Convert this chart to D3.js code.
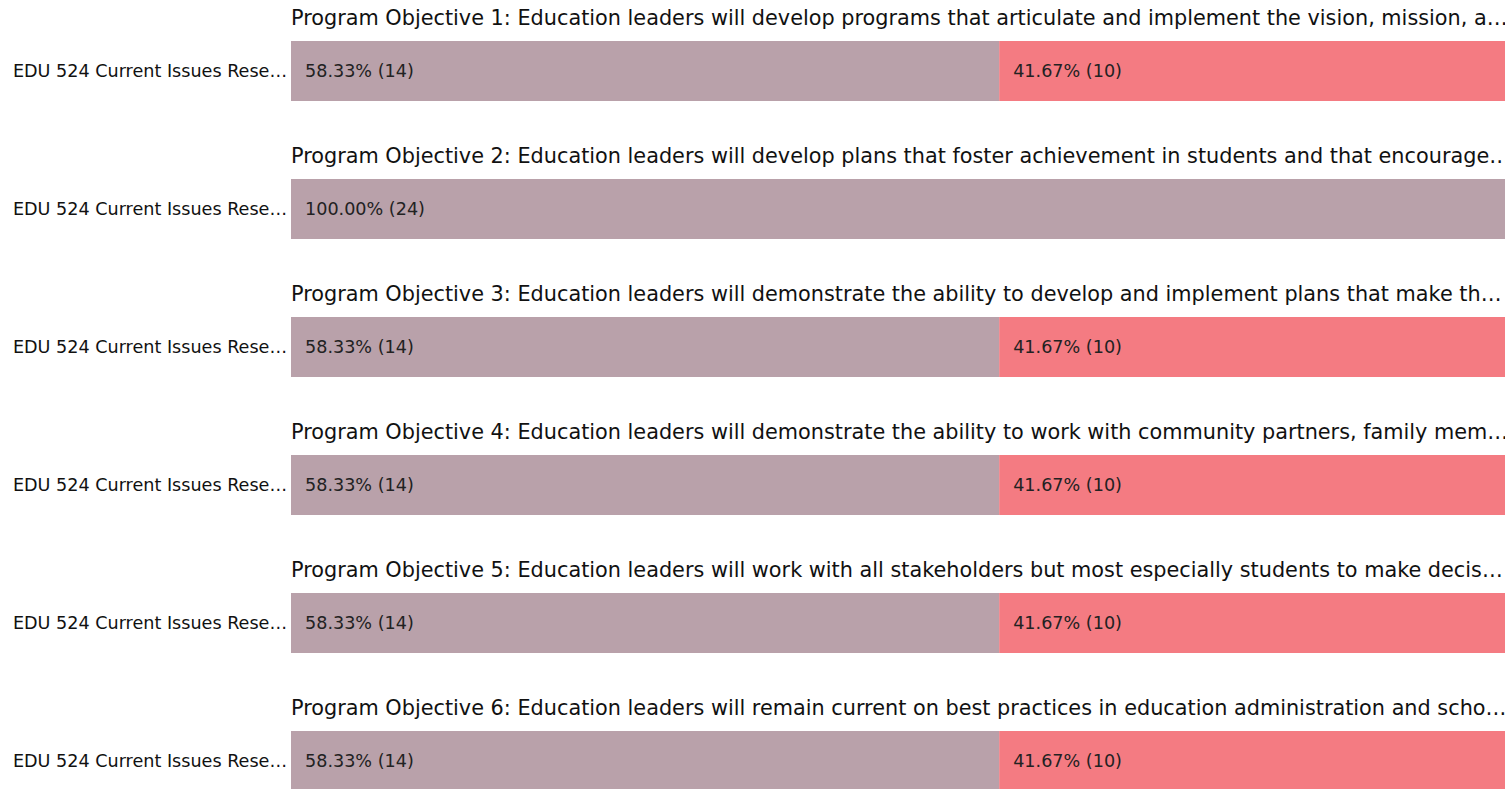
<!DOCTYPE html>
<html>
<head>
<meta charset="utf-8">
<script src="https://cdn.jsdelivr.net/npm/d3@7"></script>
<style>
  html, body { margin: 0; padding: 0; background: #fff; }
  svg { display: block; font-family: "DejaVu Sans", sans-serif; }
</style>
</head>
<body>
<div id="chart"></div>
<script>
// Titres des objectifs (tronqués comme dans l'original)
const objectives = [
  "Program Objective 1: Education leaders will develop programs that articulate and implement the vision, mission, a…",
  "Program Objective 2: Education leaders will develop plans that foster achievement in students and that encourage…",
  "Program Objective 3: Education leaders will demonstrate the ability to develop and implement plans that make th…",
  "Program Objective 4: Education leaders will demonstrate the ability to work with community partners, family mem…",
  "Program Objective 5: Education leaders will work with all stakeholders but most especially students to make decis…",
  "Program Objective 6: Education leaders will remain current on best practices in education administration and scho…"
];
const courseLabel = "EDU 524 Current Issues Rese…";
const firstCounts = [14, 24, 14, 14, 14, 14];
const secondCounts = [10, 0, 10, 10, 10, 10];
const seriesColors = ["#b9a1aa", "#f47b82"];

const width = 1505, height = 789;
const margin = { top: 0, right: 0, bottom: 0, left: 291 };
const panelStep = 138, titleSpace = 41, barH = 60;

const svg = d3.select("#chart").append("svg")
  .attr("width", width)
  .attr("height", height);

const x = d3.scaleLinear()
  .domain([0, 1])
  .range([margin.left, width - margin.right]);

const y = d3.scaleBand()
  .domain(d3.range(objectives.length))
  .range([0, panelStep * objectives.length]);

objectives.forEach((title, i) => {
  const total = firstCounts[i] + secondCounts[i];
  const segs = [
    { n: firstCounts[i], start: 0 },
    { n: secondCounts[i], start: firstCounts[i] }
  ].map((d, j) => ({ ...d, c: seriesColors[j], p: d.n / total, s: d.start / total }));

  const g = svg.append("g").attr("transform", `translate(0,${y(i)})`);

  // titre
  g.append("text")
    .attr("x", margin.left)
    .attr("y", 25)
    .attr("font-size", 20.8)
    .attr("fill", "#111")
    .text(title);

  // libellé du cours
  g.append("text")
    .attr("x", margin.left - 4)
    .attr("y", titleSpace + barH / 2)
    .attr("dy", "0.35em")
    .attr("text-anchor", "end")
    .attr("font-size", 17.6)
    .attr("fill", "#111")
    .text(courseLabel);

  const segG = g.selectAll(".seg")
    .data(segs.filter(d => d.n > 0))
    .join("g");

  segG.append("rect")
    .attr("x", d => x(d.s))
    .attr("y", titleSpace)
    .attr("width", d => x(d.s + d.p) - x(d.s))
    .attr("height", barH)
    .attr("fill", d => d.c);

  segG.append("text")
    .attr("x", d => x(d.s) + 14)
    .attr("y", titleSpace + barH / 2)
    .attr("dy", "0.35em")
    .attr("font-size", 17.6)
    .attr("fill", "#222")
    .text(d => `${(d.p * 100).toFixed(2)}% (${d.n})`);
});
</script>
</body>
</html>
